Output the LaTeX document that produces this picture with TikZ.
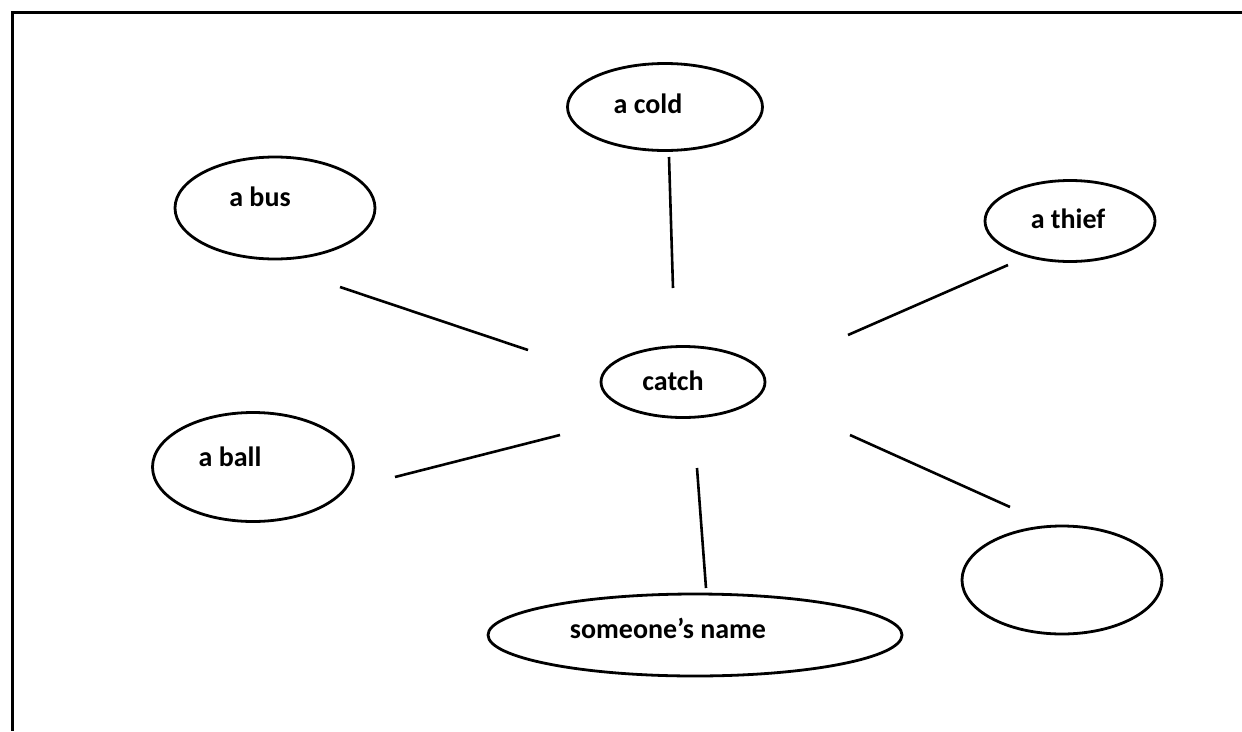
\documentclass[tikz,border=0pt]{standalone}
\usepackage{fontspec}
\setmainfont{Carlito}
\usetikzlibrary{shapes.geometric}
\tikzset{
  bubble/.style={draw, ellipse, line width=2.8pt, inner sep=0pt},
  word/.style={font=\fontsize{28}{32}\selectfont\bfseries, inner sep=0pt, anchor=center},
  spoke/.style={line width=2.6pt},
  frame/.style={line width=3pt}
}
\begin{document}
\begin{tikzpicture}[x=1pt,y=-1pt]
\useasboundingbox (0,0) rectangle (1242,731);
% frame (top and left only)
\coordinate (ftl) at (12,12);
\coordinate (ftr) at (1242,12);
\coordinate (fbl) at (12,731);
\draw[frame] (ftr) -- (ftl) -- (fbl);

% ellipses
\node[bubble, minimum width=195pt, minimum height=87pt] (cold) at (665,107) {};
\node[bubble, minimum width=200pt, minimum height=102pt] (bus) at (275,208) {};
\node[bubble, minimum width=170pt, minimum height=81pt] (thief) at (1070,221) {};
\node[bubble, minimum width=164pt, minimum height=71pt] (catch) at (683,382) {};
\node[bubble, minimum width=201pt, minimum height=109pt] (ball) at (253,467) {};
\node[bubble, minimum width=200pt, minimum height=108pt] (blank) at (1062,580) {};
\node[bubble, minimum width=414pt, minimum height=82pt] (name) at (695,635) {};

% texts
\node[word] (tcold) at (648,104) {a cold};
\node[word] (tbus) at (260,197) {a bus};
\node[word] (tthief) at (1068,219) {a thief};
\node[word] (tcatch) at (673,381) {catch};
\node[word] (tball) at (230,457) {a ball};
\node[word] (tname) at (668,628) {someone’s name};

% spokes (free-floating, not touching the ellipses)
\coordinate (c1a) at (669,157); \coordinate (c1b) at (673,288);
\coordinate (c2a) at (340,287); \coordinate (c2b) at (528,350);
\coordinate (c3a) at (1008,265); \coordinate (c3b) at (848,335);
\coordinate (c4a) at (395,477); \coordinate (c4b) at (560,435);
\coordinate (c5a) at (697,468); \coordinate (c5b) at (706,588);
\coordinate (c6a) at (850,435); \coordinate (c6b) at (1010,507);
\draw[spoke] (c1a) -- (c1b);
\draw[spoke] (c2a) -- (c2b);
\draw[spoke] (c3a) -- (c3b);
\draw[spoke] (c4a) -- (c4b);
\draw[spoke] (c5a) -- (c5b);
\draw[spoke] (c6a) -- (c6b);
\end{tikzpicture}
\end{document}
